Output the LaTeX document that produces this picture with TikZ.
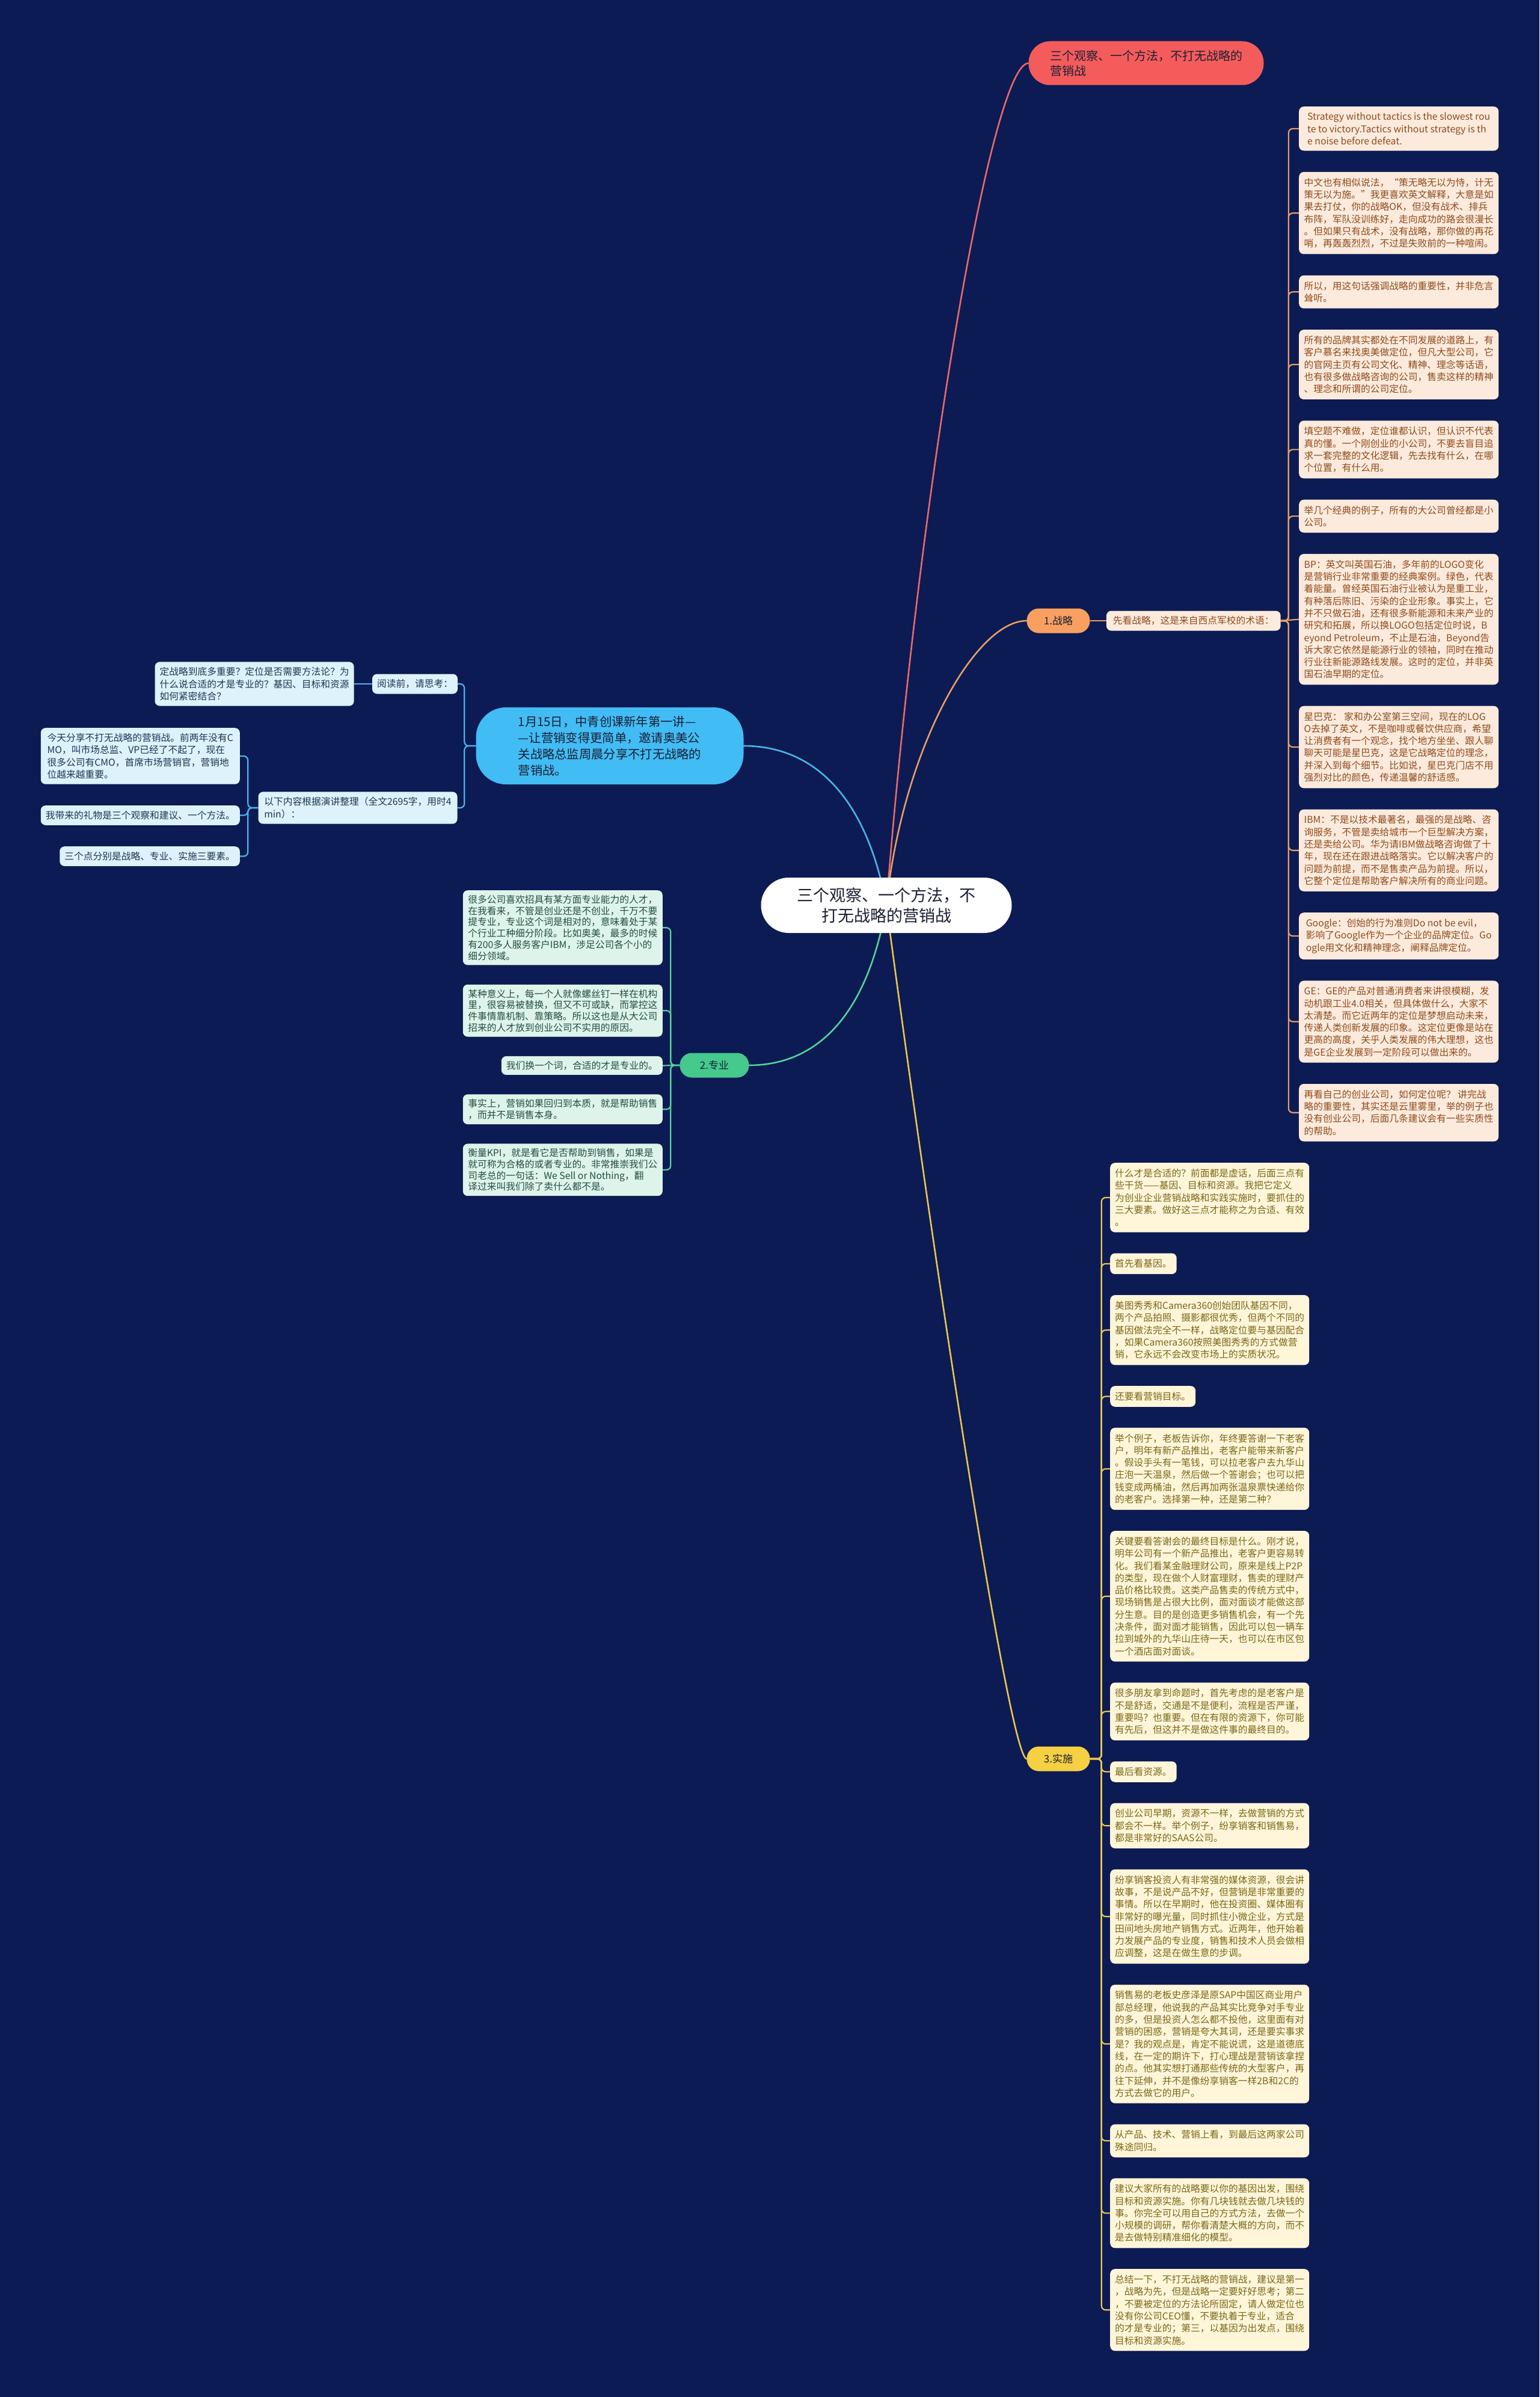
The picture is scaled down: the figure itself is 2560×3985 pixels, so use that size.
\documentclass[tikz,border=0pt]{standalone}
\usepackage{fontspec}
\setmainfont{Noto Sans CJK SC}
\usepackage{tikz}
\usetikzlibrary{positioning,backgrounds}
\definecolor{night}{HTML}{0C1B53}
\definecolor{rootred}{HTML}{F45C5C}
\definecolor{redline}{HTML}{E86A6A}
\definecolor{stratorange}{HTML}{F9A060}
\definecolor{stratline}{HTML}{E89E66}
\definecolor{stratfill}{HTML}{FCEBDD}
\definecolor{stratink}{HTML}{8E4A1C}
\definecolor{progreen}{HTML}{45C98D}
\definecolor{proline}{HTML}{52D39C}
\definecolor{profill}{HTML}{DEF4EA}
\definecolor{proink}{HTML}{244C44}
\definecolor{implyellow}{HTML}{F6D043}
\definecolor{implline}{HTML}{EAC650}
\definecolor{implfill}{HTML}{FFF6DA}
\definecolor{implink}{HTML}{7A6616}
\definecolor{introblue}{HTML}{42BCF4}
\definecolor{introline}{HTML}{4BB4EA}
\definecolor{introfill}{HTML}{DDF2FB}
\definecolor{introink}{HTML}{1E3652}
\definecolor{coreink}{HTML}{1B1F33}
\tikzset{
  mapnode/.style={rounded corners=8pt,align=left,inner xsep=8pt,inner ysep=10pt,
    font=\fontsize{15.75pt}{20.3pt}\selectfont},
  stratbox/.style={mapnode,fill=stratfill,text=stratink,minimum width=332pt},
  probox/.style={mapnode,fill=profill,text=proink,minimum width=332pt,inner ysep=8pt,
    font=\fontsize{15.75pt}{18.7pt}\selectfont},
  implbox/.style={mapnode,fill=implfill,text=implink,minimum width=331pt},
  introbox/.style={mapnode,fill=introfill,text=introink,minimum width=331pt,inner ysep=9pt},
  branchpill/.style={rounded corners=20pt,minimum height=41pt,minimum width=105pt,
    font=\fontsize{17pt}{20pt}\selectfont,text=coreink},
  mapline/.style={line width=2.6pt,line cap=round},
  twig/.style={line width=2.2pt,rounded corners=7pt}
}

\begin{document}
\begin{tikzpicture}[x=1pt,y=-1pt]
  \useasboundingbox (0,0) rectangle (2560,3985);
  % centre and main branches
  \node[fill=white,rounded corners=46pt,minimum width=417pt,minimum height=92pt,align=center,
    text=coreink,font=\fontsize{27pt}{34pt}\selectfont] (core) at (1474,1505) {三个观察、一个方法，不\\打无战略的营销战};
  \node[fill=rootred,rounded corners=36pt,minimum width=391pt,minimum height=73pt,align=left,
    text=coreink,font=\fontsize{20pt}{25pt}\selectfont] (title) at (1906,105) {三个观察、一个方法，不打无战略的\\营销战};
  \node[branchpill,fill=stratorange] (strat) at (1760,1032) {1.战略};
  \node[stratbox,minimum width=0pt,inner xsep=11pt,inner ysep=9pt,right=27pt of strat] (westpoint) {先看战略，这是来自西点军校的术语：};
  \node[branchpill,fill=progreen,minimum width=115pt] (pro) at (1188,1771) {2.专业};
  \node[branchpill,fill=implyellow] (impl) at (1760,2924) {3.实施};
  \node[fill=introblue,rounded corners=50pt,minimum width=445pt,minimum height=128pt,align=left,
    text=coreink,font=\fontsize{20.3pt}{27pt}\selectfont] (lecture) at (1014,1240) {1月15日，中青创课新年第一讲—\\
    —让营销变得更简单，邀请奥美公\\
    关战略总监周晨分享不打无战略的\\
    营销战。};

  % intro
  \node[introbox,minimum width=0pt] (ask) at (690,1137) {阅读前，请思考：};
  \node[introbox,left=30pt of ask] (questions) {定战略到底多重要？定位是否需要方法论？为\\
    什么说合适的才是专业的？基因、目标和资源\\
    如何紧密结合？};
  \node[introbox] (outline) at (595,1343) {以下内容根据演讲整理（全文2695字，用时4\\
    min）：};
  \node[introbox,anchor=north east] (l1) at (399,1210) {今天分享不打无战略的营销战。前两年没有C\\
    MO，叫市场总监、VP已经了不起了，现在\\
    很多公司有CMO，首席市场营销官，营销地\\
    位越来越重要。};
  \node[introbox,minimum width=0pt,below=35pt of l1.south east,anchor=north east] (l2) {我带来的礼物是三个观察和建议、一个方法。};
  \node[introbox,minimum width=0pt,below=35pt of l2.south east,anchor=north east] (l3) {三个点分别是战略、专业、实施三要素。};

  % strategy
  \node[stratbox,anchor=north west] (s1) at (2160,177) {Strategy without tactics is the slowest rou\\
    te to victory.Tactics without strategy is th\\
    e noise before defeat.};
  \node[stratbox,below=35pt of s1.south west,anchor=north west] (s2) {中文也有相似说法，“策无略无以为恃，计无\\
    策无以为施。”我更喜欢英文解释，大意是如\\
    果去打仗，你的战略OK，但没有战术、排兵\\
    布阵，军队没训练好，走向成功的路会很漫长\\
    。但如果只有战术，没有战略，那你做的再花\\
    哨，再轰轰烈烈，不过是失败前的一种喧闹。};
  \node[stratbox,below=35pt of s2.south west,anchor=north west] (s3) {所以，用这句话强调战略的重要性，并非危言\\
    耸听。};
  \node[stratbox,below=35pt of s3.south west,anchor=north west] (s4) {所有的品牌其实都处在不同发展的道路上，有\\
    客户慕名来找奥美做定位，但凡大型公司，它\\
    的官网主页有公司文化、精神、理念等话语，\\
    也有很多做战略咨询的公司，售卖这样的精神\\
    、理念和所谓的公司定位。};
  \node[stratbox,below=35pt of s4.south west,anchor=north west] (s5) {填空题不难做，定位谁都认识，但认识不代表\\
    真的懂。一个刚创业的小公司，不要去盲目追\\
    求一套完整的文化逻辑，先去找有什么，在哪\\
    个位置，有什么用。};
  \node[stratbox,below=35pt of s5.south west,anchor=north west] (s6) {举几个经典的例子，所有的大公司曾经都是小\\
    公司。};
  \node[stratbox,below=35pt of s6.south west,anchor=north west] (s7) {BP：英文叫英国石油，多年前的LOGO变化\\
    是营销行业非常重要的经典案例。绿色，代表\\
    着能量。曾经英国石油行业被认为是重工业，\\
    有种落后陈旧、污染的企业形象。事实上，它\\
    并不只做石油，还有很多新能源和未来产业的\\
    研究和拓展，所以换LOGO包括定位时说，B\\
    eyond Petroleum，不止是石油，Beyond告\\
    诉大家它依然是能源行业的领袖，同时在推动\\
    行业往新能源路线发展。这时的定位，并非英\\
    国石油早期的定位。};
  \node[stratbox,below=35pt of s7.south west,anchor=north west] (s8) {星巴克： 家和办公室第三空间，现在的LOG\\
    O去掉了英文，不是咖啡或餐饮供应商，希望\\
    让消费者有一个观念，找个地方坐坐、跟人聊\\
    聊天可能是星巴克，这是它战略定位的理念，\\
    并深入到每个细节。比如说，星巴克门店不用\\
    强烈对比的颜色，传递温馨的舒适感。};
  \node[stratbox,below=35pt of s8.south west,anchor=north west] (s9) {IBM：不是以技术最著名，最强的是战略、咨\\
    询服务，不管是卖给城市一个巨型解决方案，\\
    还是卖给公司。华为请IBM做战略咨询做了十\\
    年，现在还在跟进战略落实。它以解决客户的\\
    问题为前提，而不是售卖产品为前提。所以，\\
    它整个定位是帮助客户解决所有的商业问题。};
  \node[stratbox,below=35pt of s9.south west,anchor=north west] (s10) {Google：创始的行为准则Do not be evil，\\
    影响了Google作为一个企业的品牌定位。Go\\
    ogle用文化和精神理念，阐释品牌定位。};
  \node[stratbox,below=35pt of s10.south west,anchor=north west] (s11) {GE：GE的产品对普通消费者来讲很模糊，发\\
    动机跟工业4.0相关，但具体做什么，大家不\\
    太清楚。而它近两年的定位是梦想启动未来，\\
    传递人类创新发展的印象。这定位更像是站在\\
    更高的高度，关乎人类发展的伟大理想，这也\\
    是GE企业发展到一定阶段可以做出来的。};
  \node[stratbox,below=35pt of s11.south west,anchor=north west] (s12) {再看自己的创业公司，如何定位呢？ 讲完战\\
    略的重要性，其实还是云里雾里，举的例子也\\
    没有创业公司，后面几条建议会有一些实质性\\
    的帮助。};

  % professional
  \node[probox,anchor=north east] (p1) at (1102,1480) {很多公司喜欢招具有某方面专业能力的人才，\\
    在我看来，不管是创业还是不创业，千万不要\\
    提专业，专业这个词是相对的，意味着处于某\\
    个行业工种细分阶段。比如奥美，最多的时候\\
    有200多人服务客户IBM，涉足公司各个小的\\
    细分领域。};
  \node[probox,below=32pt of p1.south east,anchor=north east] (p2) {某种意义上，每一个人就像螺丝钉一样在机构\\
    里，很容易被替换，但又不可或缺，而掌控这\\
    件事情靠机制、靠策略。所以这也是从大公司\\
    招来的人才放到创业公司不实用的原因。};
  \node[probox,minimum width=0pt,below=32pt of p2.south east,anchor=north east] (p3) {我们换一个词，合适的才是专业的。};
  \node[probox,below=32pt of p3.south east,anchor=north east] (p4) {事实上，营销如果回归到本质，就是帮助销售\\
    ，而并不是销售本身。};
  \node[probox,below=32pt of p4.south east,anchor=north east] (p5) {衡量KPI，就是看它是否帮助到销售，如果是\\
    就可称为合格的或者专业的。非常推崇我们公\\
    司老总的一句话：We Sell or Nothing，翻\\
    译过来叫我们除了卖什么都不是。};

  % implementation
  \node[implbox,anchor=north west] (i1) at (1846,1933) {什么才是合适的？前面都是虚话，后面三点有\\
    些干货——基因、目标和资源。我把它定义\\
    为创业企业营销战略和实践实施时，要抓住的\\
    三大要素。做好这三点才能称之为合适、有效\\
    。};
  \node[implbox,minimum width=0pt,below=34.5pt of i1.south west,anchor=north west] (i2) {首先看基因。};
  \node[implbox,below=34.5pt of i2.south west,anchor=north west] (i3) {美图秀秀和Camera360创始团队基因不同，\\
    两个产品拍照、摄影都很优秀，但两个不同的\\
    基因做法完全不一样，战略定位要与基因配合\\
    ，如果Camera360按照美图秀秀的方式做营\\
    销，它永远不会改变市场上的实质状况。};
  \node[implbox,minimum width=0pt,below=34.5pt of i3.south west,anchor=north west] (i4) {还要看营销目标。};
  \node[implbox,below=34.5pt of i4.south west,anchor=north west] (i5) {举个例子，老板告诉你，年终要答谢一下老客\\
    户，明年有新产品推出，老客户能带来新客户\\
    。假设手头有一笔钱，可以拉老客户去九华山\\
    庄泡一天温泉，然后做一个答谢会；也可以把\\
    钱变成两桶油，然后再加两张温泉票快递给你\\
    的老客户。选择第一种，还是第二种？};
  \node[implbox,below=34.5pt of i5.south west,anchor=north west] (i6) {关键要看答谢会的最终目标是什么。刚才说，\\
    明年公司有一个新产品推出，老客户更容易转\\
    化。我们看某金融理财公司，原来是线上P2P\\
    的类型，现在做个人财富理财，售卖的理财产\\
    品价格比较贵。这类产品售卖的传统方式中，\\
    现场销售是占很大比例，面对面谈才能做这部\\
    分生意。目的是创造更多销售机会，有一个先\\
    决条件，面对面才能销售，因此可以包一辆车\\
    拉到城外的九华山庄待一天，也可以在市区包\\
    一个酒店面对面谈。};
  \node[implbox,below=34.5pt of i6.south west,anchor=north west] (i7) {很多朋友拿到命题时，首先考虑的是老客户是\\
    不是舒适，交通是不是便利，流程是否严谨，\\
    重要吗？也重要。但在有限的资源下，你可能\\
    有先后，但这并不是做这件事的最终目的。};
  \node[implbox,minimum width=0pt,below=34.5pt of i7.south west,anchor=north west] (i8) {最后看资源。};
  \node[implbox,below=34.5pt of i8.south west,anchor=north west] (i9) {创业公司早期，资源不一样，去做营销的方式\\
    都会不一样。举个例子，纷享销客和销售易，\\
    都是非常好的SAAS公司。};
  \node[implbox,below=34.5pt of i9.south west,anchor=north west] (i10) {纷享销客投资人有非常强的媒体资源，很会讲\\
    故事，不是说产品不好，但营销是非常重要的\\
    事情。所以在早期时，他在投资圈、媒体圈有\\
    非常好的曝光量，同时抓住小微企业，方式是\\
    田间地头房地产销售方式。近两年，他开始着\\
    力发展产品的专业度，销售和技术人员会做相\\
    应调整，这是在做生意的步调。};
  \node[implbox,below=34.5pt of i10.south west,anchor=north west] (i11) {销售易的老板史彦泽是原SAP中国区商业用户\\
    部总经理，他说我的产品其实比竞争对手专业\\
    的多，但是投资人怎么都不投他，这里面有对\\
    营销的困惑，营销是夸大其词，还是要实事求\\
    是？我的观点是，肯定不能说谎，这是道德底\\
    线，在一定的期许下，打心理战是营销该拿捏\\
    的点。他其实想打通那些传统的大型客户，再\\
    往下延伸，并不是像纷享销客一样2B和2C的\\
    方式去做它的用户。};
  \node[implbox,below=34.5pt of i11.south west,anchor=north west] (i12) {从产品、技术、营销上看，到最后这两家公司\\
    殊途同归。};
  \node[implbox,below=34.5pt of i12.south west,anchor=north west] (i13) {建议大家所有的战略要以你的基因出发，围绕\\
    目标和资源实施。你有几块钱就去做几块钱的\\
    事。你完全可以用自己的方式方法，去做一个\\
    小规模的调研，帮你看清楚大概的方向，而不\\
    是去做特别精准细化的模型。};
  \node[implbox,below=34.5pt of i13.south west,anchor=north west] (i14) {总结一下，不打无战略的营销战，建议是第一\\
    ，战略为先，但是战略一定要好好思考；第二\\
    ，不要被定位的方法论所固定，请人做定位也\\
    没有你公司CEO懂，不要执着于专业，适合\\
    的才是专业的；第三，以基因为出发点，围绕\\
    目标和资源实施。};

  % connectors
  \begin{scope}[on background layer]
    \fill[night] (0,0) rectangle (2560,3985);
    \draw[mapline,redline] (core.center) .. controls (1530,800) and (1650,105) .. (title.west);
    \draw[mapline,stratline] (core.center) .. controls (1500,1250) and (1620,1032) .. (strat.west);
    \draw[mapline,introline] (core.center) .. controls (1440,1320) and (1350,1240) .. (lecture.east);
    \draw[mapline,proline] (core.center) .. controls (1440,1700) and (1350,1771) .. (pro.east);
    \draw[mapline,implline] (core.center) .. controls (1560,2150) and (1680,2924) .. (impl.west);

    \draw[twig,introline] (lecture.west) -- ++(-19,0) |- (ask.east);
    \draw[twig,introline] (lecture.west) -- ++(-19,0) |- (outline.east);
    \draw[twig,introline] (ask.west) -- (questions.east);
    \draw[twig,introline] (outline.west) -- ++(-17,0) |- (l1.east);
    \draw[twig,introline] (outline.west) -- ++(-17,0) |- (l2.east);
    \draw[twig,introline] (outline.west) -- ++(-17,0) |- (l3.east);

    \draw[twig,stratline] (strat.east) -- (westpoint.west);
    \draw[twig,stratline] (westpoint.east) -- ++(13,0) |- (s1.west);
    \draw[twig,stratline] (westpoint.east) -- ++(13,0) |- (s2.west);
    \draw[twig,stratline] (westpoint.east) -- ++(13,0) |- (s3.west);
    \draw[twig,stratline] (westpoint.east) -- ++(13,0) |- (s4.west);
    \draw[twig,stratline] (westpoint.east) -- ++(13,0) |- (s5.west);
    \draw[twig,stratline] (westpoint.east) -- ++(13,0) |- (s6.west);
    \draw[twig,stratline] (westpoint.east) -- (s7.west);
    \draw[twig,stratline] (westpoint.east) -- ++(13,0) |- (s8.west);
    \draw[twig,stratline] (westpoint.east) -- ++(13,0) |- (s9.west);
    \draw[twig,stratline] (westpoint.east) -- ++(13,0) |- (s10.west);
    \draw[twig,stratline] (westpoint.east) -- ++(13,0) |- (s11.west);
    \draw[twig,stratline] (westpoint.east) -- ++(13,0) |- (s12.west);

    \draw[twig,proline] (pro.west) -- ++(-15,0) |- (p1.east);
    \draw[twig,proline] (pro.west) -- ++(-15,0) |- (p2.east);
    \draw[twig,proline] (pro.west) -- (p3.east);
    \draw[twig,proline] (pro.west) -- ++(-15,0) |- (p4.east);
    \draw[twig,proline] (pro.west) -- ++(-15,0) |- (p5.east);

    \draw[twig,implline] (impl.east) -- ++(19,0) |- (i1.west);
    \draw[twig,implline] (impl.east) -- ++(19,0) |- (i2.west);
    \draw[twig,implline] (impl.east) -- ++(19,0) |- (i3.west);
    \draw[twig,implline] (impl.east) -- ++(19,0) |- (i4.west);
    \draw[twig,implline] (impl.east) -- ++(19,0) |- (i5.west);
    \draw[twig,implline] (impl.east) -- ++(19,0) |- (i6.west);
    \draw[twig,implline] (impl.east) -- ++(19,0) |- (i7.west);
    \draw[twig,implline] (impl.east) -- ++(19,0) |- (i8.west);
    \draw[twig,implline] (impl.east) -- ++(19,0) |- (i9.west);
    \draw[twig,implline] (impl.east) -- ++(19,0) |- (i10.west);
    \draw[twig,implline] (impl.east) -- ++(19,0) |- (i11.west);
    \draw[twig,implline] (impl.east) -- ++(19,0) |- (i12.west);
    \draw[twig,implline] (impl.east) -- ++(19,0) |- (i13.west);
    \draw[twig,implline] (impl.east) -- ++(19,0) |- (i14.west);
  \end{scope}
\end{tikzpicture}
\end{document}
